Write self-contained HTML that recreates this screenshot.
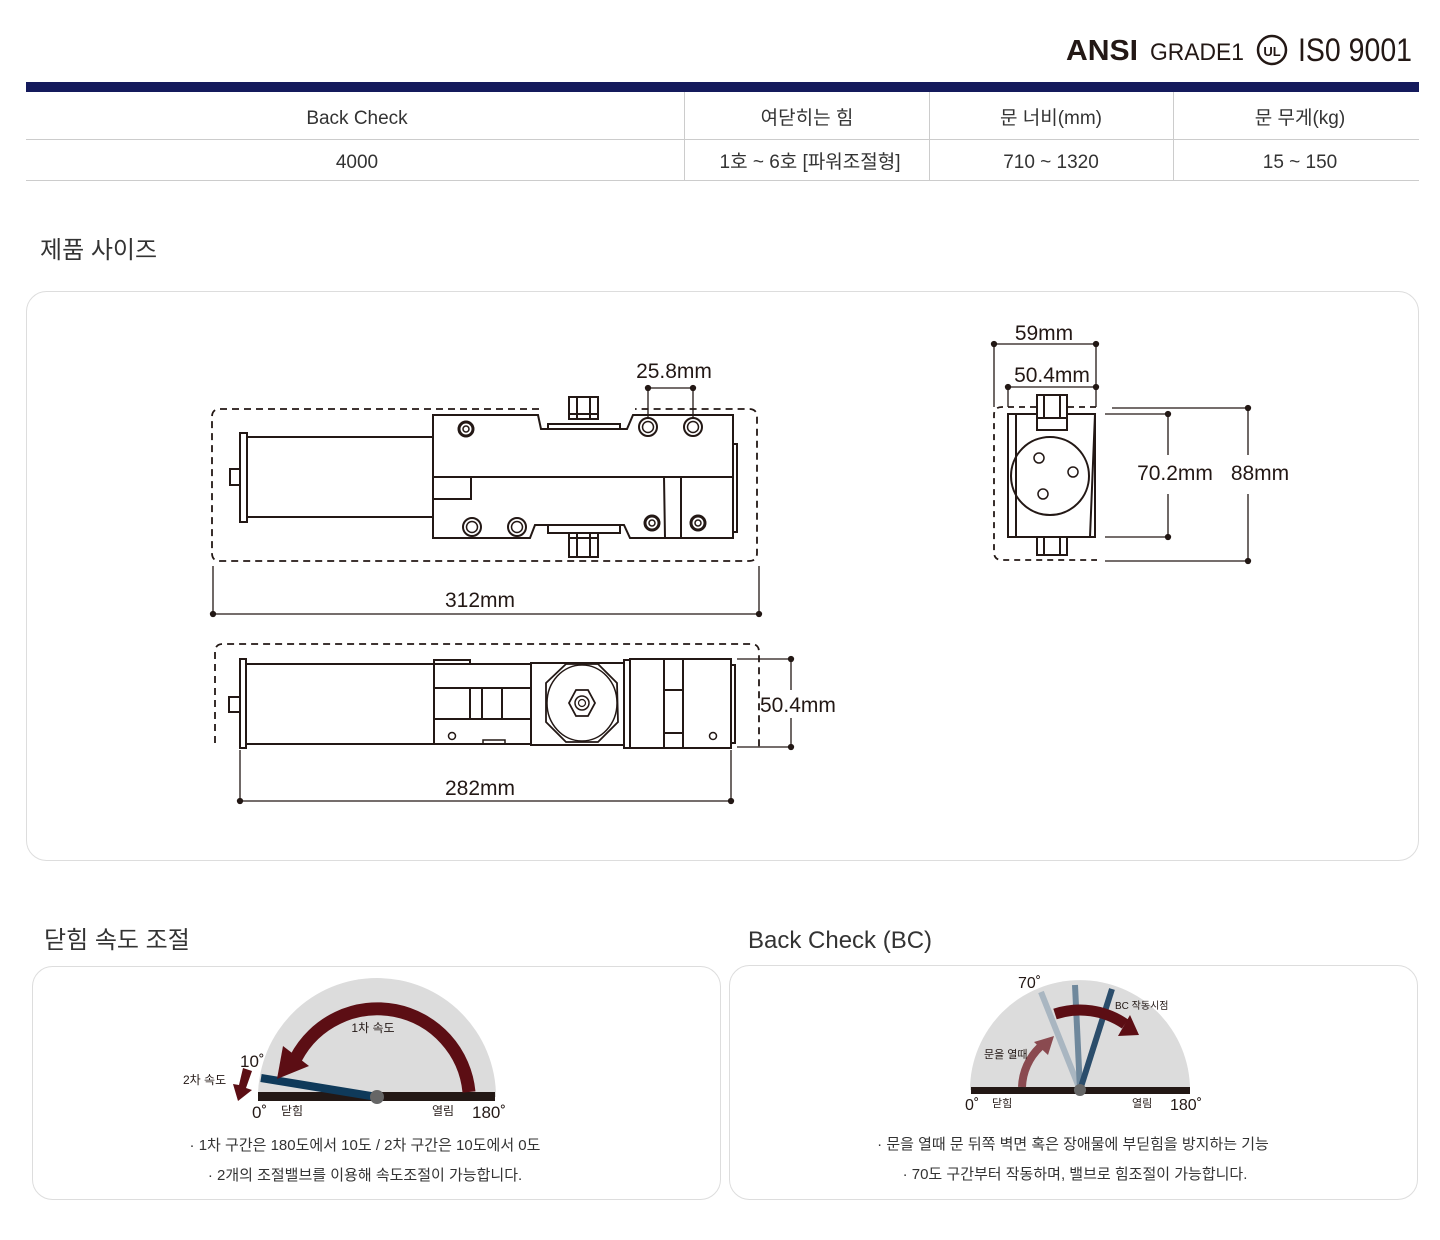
<!DOCTYPE html>
<html><head><meta charset="utf-8"><style>
html,body{margin:0;padding:0;background:#fff;}
svg{display:block;font-family:"Liberation Sans","Noto Sans CJK KR",sans-serif;}
</style></head><body>
<svg width="1440" height="1240" viewBox="0 0 1440 1240" xmlns="http://www.w3.org/2000/svg">
<!-- header logos -->
<text x="1066" y="60" font-size="29" font-weight="bold" fill="#231815" textLength="72" lengthAdjust="spacingAndGlyphs">ANSI</text>
<text x="1150" y="60" font-size="24" fill="#231815" textLength="94" lengthAdjust="spacingAndGlyphs">GRADE1</text>
<circle cx="1272" cy="50" r="14" fill="none" stroke="#231815" stroke-width="2.5"/>
<text x="1272" y="56" font-size="13" font-weight="bold" text-anchor="middle" fill="#231815">UL</text>
<text x="1298" y="61" font-size="32" fill="#231815" textLength="114" lengthAdjust="spacingAndGlyphs">IS0 9001</text>
<!-- table -->
<rect x="26" y="82" width="1393" height="10" fill="#141a5c"/>
<line x1="26" y1="139.5" x2="1419" y2="139.5" stroke="#ccc"/>
<line x1="26" y1="180.5" x2="1419" y2="180.5" stroke="#ccc"/>
<g stroke="#ccc"><line x1="684.5" y1="92" x2="684.5" y2="181"/><line x1="929.5" y1="92" x2="929.5" y2="181"/><line x1="1173.5" y1="92" x2="1173.5" y2="181"/></g>
<g font-size="19" fill="#333" text-anchor="middle">
<text x="357" y="124">Back Check</text><text x="807" y="124">여닫히는 힘</text><text x="1051" y="124">문 너비(mm)</text><text x="1300" y="124">문 무게(kg)</text>
<text x="357" y="168">4000</text><text x="810" y="168">1호 ~ 6호 [파워조절형]</text><text x="1051" y="168">710 ~ 1320</text><text x="1300" y="168">15 ~ 150</text>
</g>
<text x="40" y="258" font-size="24" fill="#333">제품 사이즈</text>
<rect x="26.5" y="291.5" width="1392" height="569" rx="20" fill="#fff" stroke="#ddd"/>

<!-- top drawing -->
<g fill="none" stroke="#231815" stroke-width="2">
<path d="M539 409 H220 Q212 409 212 417 V553 Q212 561 220 561 H749 Q757 561 757 553 V417 Q757 409 749 409 H635" stroke-dasharray="7 5" stroke-width="1.8"/>
<rect x="230" y="469" width="10" height="16" fill="#fff"/>
<rect x="240" y="433" width="7" height="89" fill="#fff"/>
<rect x="247" y="437" width="186" height="80" fill="#fff"/>
<path d="M433 415 H538 L541 429 H627 L633 415 H733 V538 H630 L624 525 H535 L530 538 H433 Z" fill="#fff"/>
<rect x="733" y="444" width="4" height="88" fill="#fff"/>
<line x1="433" y1="477" x2="733" y2="477"/>
<rect x="433" y="477" width="38" height="22"/>
<path d="M664 477 L665 538 M681 477 V538"/>
<rect x="548" y="424" width="72" height="5" fill="#fff"/>
<rect x="569" y="397" width="29" height="22" fill="#fff"/>
<path d="M577 397 V419 M590 397 V419 M569 414 H598"/>
<rect x="548" y="525" width="72" height="8" fill="#fff"/>
<rect x="569" y="533" width="29" height="24" fill="#fff"/>
<path d="M577 533 V557 M590 533 V557 M569 538 H598"/>
</g>
<g fill="none" stroke="#231815">
<circle cx="466" cy="429" r="7" stroke-width="3"/><circle cx="466" cy="429" r="3" stroke-width="1.5"/>
<circle cx="648" cy="427" r="9" stroke-width="2"/><circle cx="648" cy="427" r="5.5" stroke-width="1.5"/>
<circle cx="693" cy="427" r="9" stroke-width="2"/><circle cx="693" cy="427" r="5.5" stroke-width="1.5"/>
<circle cx="472" cy="527" r="9" stroke-width="2"/><circle cx="472" cy="527" r="5.5" stroke-width="1.5"/>
<circle cx="517" cy="527" r="9" stroke-width="2"/><circle cx="517" cy="527" r="5.5" stroke-width="1.5"/>
<circle cx="652" cy="523" r="7" stroke-width="3"/><circle cx="652" cy="523" r="3" stroke-width="1.5"/>
<circle cx="698" cy="523" r="7" stroke-width="3"/><circle cx="698" cy="523" r="3" stroke-width="1.5"/>
</g>
<g stroke="#231815" stroke-width="1.3" fill="#231815">
<line x1="648" y1="388" x2="693" y2="388"/><line x1="648" y1="388" x2="648" y2="418"/><line x1="693" y1="388" x2="693" y2="418"/>
<circle cx="648" cy="388" r="2.5"/><circle cx="693" cy="388" r="2.5"/>
<line x1="213" y1="566" x2="213" y2="614"/><line x1="759" y1="566" x2="759" y2="614"/><line x1="213" y1="614" x2="759" y2="614"/>
<circle cx="213" cy="614" r="2.5"/><circle cx="759" cy="614" r="2.5"/>
</g>
<g font-size="21" fill="#231815" text-anchor="middle">
<text x="674" y="378">25.8mm</text><text x="480" y="607">312mm</text>
</g>

<!-- bottom drawing -->
<g fill="none" stroke="#231815" stroke-width="2">
<path d="M215 743 V652 Q215 644 223 644 H751 Q759 644 759 652 V747" stroke-dasharray="7 5" stroke-width="1.8"/>
<rect x="229" y="697" width="11" height="15" fill="#fff"/>
<rect x="240" y="659" width="6" height="89" fill="#fff"/>
<rect x="246" y="664" width="188" height="80" fill="#fff"/>
<rect x="434" y="660" width="36" height="5" fill="#fff"/>
<rect x="434" y="664" width="97" height="80" fill="#fff"/>
<path d="M434 688 H531 M434 719 H531 M470 688 V719 M482 688 V719 M502 688 V719"/>
<circle cx="452" cy="736" r="3.5" stroke-width="1.5"/>
<path d="M483 744 V740 H505 V744" stroke-width="1.5"/>
<rect x="531" y="663" width="93" height="82" fill="#fff"/>
<polygon points="566,664 598,664 617,683 618,722 598,742 566,742 546,722 546,683" stroke-width="1.8"/>
<ellipse cx="582" cy="703" rx="35" ry="38" stroke-width="1.5"/>
<polygon points="576,690 588,690 595,703 588,716 576,716 569,703" stroke-width="1.8"/>
<circle cx="582" cy="703" r="7" stroke-width="1.5"/><circle cx="582" cy="703" r="3.5" stroke-width="1.2"/>
<rect x="624" y="660" width="6" height="88" fill="#fff"/>
<rect x="630" y="659" width="101" height="89" fill="#fff"/>
<path d="M664 659 V748 M683 659 V748 M664 690 H683 M664 733 H683"/>
<circle cx="713" cy="736" r="3.5" stroke-width="1.5"/>
<rect x="731" y="665" width="4" height="78" fill="#fff"/>
</g>
<g stroke="#231815" stroke-width="1.3" fill="#231815">
<line x1="737" y1="659" x2="791" y2="659"/><line x1="737" y1="747" x2="791" y2="747"/>
<line x1="791" y1="659" x2="791" y2="690"/><line x1="791" y1="718" x2="791" y2="747"/>
<circle cx="791" cy="659" r="2.5"/><circle cx="791" cy="747" r="2.5"/>
<line x1="240" y1="750" x2="240" y2="801"/><line x1="731" y1="750" x2="731" y2="801"/><line x1="240" y1="801" x2="731" y2="801"/>
<circle cx="240" cy="801" r="2.5"/><circle cx="731" cy="801" r="2.5"/>
</g>
<g font-size="21" fill="#231815">
<text x="760" y="712">50.4mm</text><text x="480" y="795" text-anchor="middle">282mm</text>
</g>

<!-- side view -->
<g fill="none" stroke="#231815" stroke-width="2">
<path d="M1036 407 H1002 Q994 407 994 415 V552 Q994 560 1002 560 H1097 M1068 407 H1097" stroke-dasharray="6 5" stroke-width="1.8"/>
<path d="M1008 414 H1095 L1090 537 H1008 Z" fill="#fff"/>
<path d="M1016 414 V537 M1090 414 L1095 414 L1095 537 L1090 537"/>
<circle cx="1050" cy="476" r="39"/>
<circle cx="1039" cy="458" r="5" stroke-width="1.5"/><circle cx="1073" cy="472" r="5" stroke-width="1.5"/><circle cx="1043" cy="494" r="5" stroke-width="1.5"/>
<rect x="1037" y="395" width="30" height="35" fill="#fff"/>
<path d="M1044 395 V418 M1060 395 V418 M1037 418 H1067"/>
<rect x="1037" y="537" width="30" height="18" fill="#fff"/>
<path d="M1044 537 V555 M1060 537 V555"/>
</g>
<g stroke="#231815" stroke-width="1.3" fill="#231815">
<line x1="994" y1="344" x2="1096" y2="344"/><line x1="994" y1="344" x2="994" y2="407"/><line x1="1096" y1="344" x2="1096" y2="407"/>
<line x1="1008" y1="387" x2="1096" y2="387"/><line x1="1008" y1="387" x2="1008" y2="407"/>
<circle cx="994" cy="344" r="2.5"/><circle cx="1096" cy="344" r="2.5"/><circle cx="1008" cy="387" r="2.5"/><circle cx="1096" cy="387" r="2.5"/>
<line x1="1105" y1="414" x2="1168" y2="414"/><line x1="1105" y1="537" x2="1168" y2="537"/>
<line x1="1168" y1="414" x2="1168" y2="455"/><line x1="1168" y1="494" x2="1168" y2="537"/>
<line x1="1112" y1="408" x2="1248" y2="408"/><line x1="1105" y1="561" x2="1248" y2="561"/>
<line x1="1248" y1="408" x2="1248" y2="455"/><line x1="1248" y1="494" x2="1248" y2="561"/>
<circle cx="1168" cy="414" r="2.5"/><circle cx="1168" cy="537" r="2.5"/><circle cx="1248" cy="408" r="2.5"/><circle cx="1248" cy="561" r="2.5"/>
</g>
<g font-size="21" fill="#231815" text-anchor="middle">
<text x="1044" y="340">59mm</text><text x="1052" y="382">50.4mm</text>
<text x="1175" y="480">70.2mm</text><text x="1260" y="480">88mm</text>
</g>

<!-- bottom sections -->
<text x="44" y="948" font-size="24" fill="#333">닫힘 속도 조절</text>
<text x="748" y="948" font-size="24" fill="#333">Back Check (BC)</text>
<rect x="32.5" y="966.5" width="688" height="233" rx="20" fill="#fff" stroke="#ddd"/>
<rect x="729.5" y="965.5" width="688" height="234" rx="20" fill="#fff" stroke="#ddd"/>

<!-- left gauge -->
<path d="M258 1097 A119 119 0 0 1 496 1097 Z" fill="#dcdcdc"/>
<rect x="258" y="1092" width="237" height="9" fill="#231815"/>
<line x1="261" y1="1078" x2="377" y2="1097" stroke="#0f3a5a" stroke-width="8"/>
<path d="M469 1092 A92 92 0 0 0 296 1058" fill="none" stroke="#5c0e14" stroke-width="13"/>
<polygon points="277,1079 283,1046 309,1066" fill="#5c0e14"/>
<circle cx="377" cy="1097" r="7" fill="#666"/>
<polygon points="243,1068 252,1071 246,1088 252,1090 238,1101 233,1084 239,1085" fill="#5c0e14"/>
<g fill="#231815">
<text x="373" y="1032" font-size="12" text-anchor="middle">1차 속도</text>
<text x="240" y="1067" font-size="17">10˚</text>
<text x="252" y="1118" font-size="17">0˚</text>
<text x="472" y="1118" font-size="17">180˚</text>
<text x="281" y="1115" font-size="12">닫힘</text>
<text x="432" y="1115" font-size="12">열림</text>
<text x="183" y="1084" font-size="12">2차 속도</text>
</g>
<g font-size="15" fill="#333" text-anchor="middle">
<text x="365" y="1150">· 1차 구간은 180도에서 10도 / 2차 구간은 10도에서 0도</text>
<text x="365" y="1180">· 2개의 조절밸브를 이용해 속도조절이 가능합니다.</text>
</g>

<!-- right gauge -->
<path d="M970 1090 A110 110 0 0 1 1190 1090 Z" fill="#dcdcdc"/>
<rect x="971" y="1087" width="219" height="7" fill="#231815"/>
<line x1="1080" y1="1090" x2="1041" y2="992" stroke="#a9b6c1" stroke-width="6"/>
<line x1="1080" y1="1090" x2="1075" y2="985" stroke="#6f889c" stroke-width="6"/>
<line x1="1080" y1="1090" x2="1112" y2="989" stroke="#2b4d6b" stroke-width="6"/>
<path d="M1022 1087 A58 58 0 0 1 1040 1047" fill="none" stroke="#8a4a50" stroke-width="8"/>
<polygon points="1054,1036 1034,1042 1048,1055" fill="#8a4a50"/>
<path d="M1055 1014 A80 80 0 0 1 1125 1024" fill="none" stroke="#5c0e14" stroke-width="11"/>
<polygon points="1139,1035 1118,1036 1130,1015" fill="#5c0e14"/>
<circle cx="1080" cy="1090" r="6" fill="#666"/>
<g fill="#231815">
<text x="1018" y="988" font-size="16">70˚</text>
<text x="1115" y="1009" font-size="10">BC 작동시점</text>
<text x="984" y="1058" font-size="11">문을 열때</text>
<text x="965" y="1110" font-size="16">0˚</text>
<text x="992" y="1107" font-size="11">닫힘</text>
<text x="1132" y="1107" font-size="11">열림</text>
<text x="1170" y="1110" font-size="16">180˚</text>
</g>
<g font-size="15" fill="#333" text-anchor="middle">
<text x="1073" y="1149">· 문을 열때 문 뒤쪽 벽면 혹은 장애물에 부딛힘을 방지하는 기능</text>
<text x="1075" y="1179">· 70도 구간부터 작동하며, 밸브로 힘조절이 가능합니다.</text>
</g>
</svg>
</body></html>
